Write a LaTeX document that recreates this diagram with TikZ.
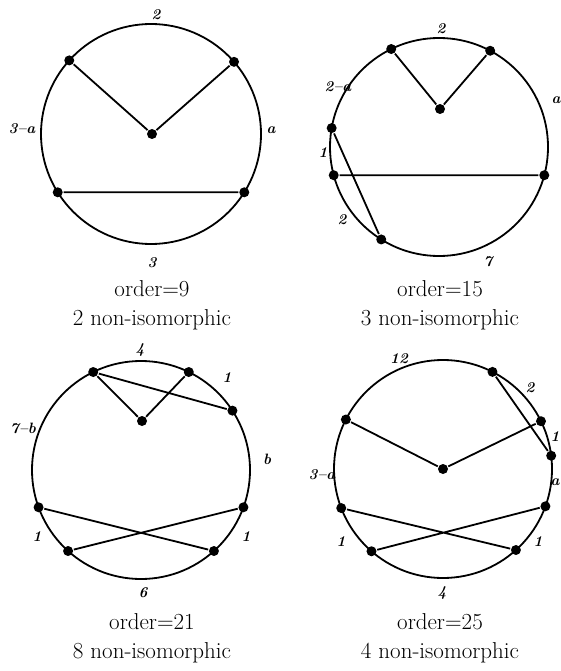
\documentclass[tikz,border=0pt]{standalone}

\begin{document}
\begin{tikzpicture}[x=1pt,y=1pt,
  vtx/.style={circle,fill=black,inner sep=0pt,minimum size=10pt},
  arclbl/.style={font=\fontsize{15}{15}\selectfont\bfseries\itshape,inner sep=0pt},
  caption/.style={font=\fontsize{23}{29}\selectfont,align=center}]
\useasboundingbox (0,0) rectangle (561,-671);
\begin{scope}[line width=1.8pt]

% order 9
\begin{scope}[shift={(151,-134)}]
\coordinate (O1) at (0,0);
\draw (O1) circle[radius=110];
\node[vtx] (a0) at (1,0) {};
\node[vtx] (a1) at (138:110) {};
\node[vtx] (a2) at (41:110) {};
\node[vtx] (a3) at (212:110) {};
\node[vtx] (a4) at (328:110) {};
\draw (a1)--(a0)--(a2) (a3)--(a4);
\node[arclbl] (la1) at (5,119) {2};
\node[arclbl] (la2) at (-129,5) {3--a};
\node[arclbl] (la3) at (120,4) {a};
\node[arclbl] (la4) at (1,-129) {3};
\end{scope}

% order 15
\begin{scope}[shift={(439,-147)}]
\coordinate (O2) at (0,0);
\draw (O2) circle[radius=109];
\node[vtx] (b0) at (1,38) {};
\node[vtx] (b1) at (116:109) {};
\node[vtx] (b2) at (62:109) {};
\node[vtx] (b3) at (170:109) {};
\node[vtx] (b4) at (195:109) {};
\node[vtx] (b5) at (345:109) {};
\node[vtx] (b6) at (238:109) {};
\draw (b1)--(b0)--(b2) (b3)--(b6) (b4)--(b5);
\node[arclbl] (lb1) at (2,118) {2};
\node[arclbl] (lb2) at (-101,60) {2--a};
\node[arclbl] (lb3) at (117,47) {a};
\node[arclbl] (lb4) at (-116,-6) {1};
\node[arclbl] (lb5) at (-97,-73) {2};
\node[arclbl] (lb6) at (49,-115) {7};
\end{scope}

% order 21
\begin{scope}[shift={(141,-470)}]
\coordinate (O3) at (0,0);
\draw (O3) circle[radius=109];
\node[vtx] (c0) at (1,49) {};
\node[vtx] (c1) at (116:109) {};
\node[vtx] (c2) at (64:109) {};
\node[vtx] (c3) at (33:109) {};
\node[vtx] (c4) at (200:109) {};
\node[vtx] (c5) at (340:109) {};
\node[vtx] (c6) at (228:109) {};
\node[vtx] (c7) at (312:109) {};
\draw (c1)--(c0)--(c2) (c1)--(c3) (c4)--(c7) (c6)--(c5);
\node[arclbl] (lc1) at (-1,120) {4};
\node[arclbl] (lc2) at (86,92) {1};
\node[arclbl] (lc3) at (-118,42) {7--b};
\node[arclbl] (lc4) at (126,11) {b};
\node[arclbl] (lc5) at (-104,-67) {1};
\node[arclbl] (lc6) at (105,-67) {1};
\node[arclbl] (lc7) at (2,-123) {6};
\end{scope}

% order 25
\begin{scope}[shift={(443,-469)}]
\coordinate (O4) at (0,0);
\draw (O4) circle[radius=109];
\node[vtx] (d0) at (0,0) {};
\node[vtx] (d1) at (63:109) {};
\node[vtx] (d2) at (26:109) {};
\node[vtx] (d3) at (7:109) {};
\node[vtx] (d4) at (153:109) {};
\node[vtx] (d5) at (201:109) {};
\node[vtx] (d6) at (340:109) {};
\node[vtx] (d7) at (229:109) {};
\node[vtx] (d8) at (312:109) {};
\draw (d4)--(d0)--(d2) (d1)--(d3) (d5)--(d8) (d7)--(d6);
\node[arclbl] (ld1) at (-44,110) {12};
\node[arclbl] (ld2) at (87,81) {2};
\node[arclbl,anchor=east] (ld3) at (117.5,32) {1};
\node[arclbl] (ld4) at (-121,-6) {3--a};
\node[arclbl,anchor=east] (ld5) at (117.5,-13) {a};
\node[arclbl] (ld6) at (-102,-73) {1};
\node[arclbl] (ld7) at (95,-73) {1};
\node[arclbl] (ld8) at (-1,-124) {4};
\end{scope}

\end{scope}

\node[caption] (t1) at (152,-305) {order=9\\2 non-isomorphic};
\node[caption] (t2) at (440,-305) {order=15\\3 non-isomorphic};
\node[caption] (t3) at (152,-638) {order=21\\8 non-isomorphic};
\node[caption] (t4) at (440,-638) {order=25\\4 non-isomorphic};
\end{tikzpicture}
\end{document}
